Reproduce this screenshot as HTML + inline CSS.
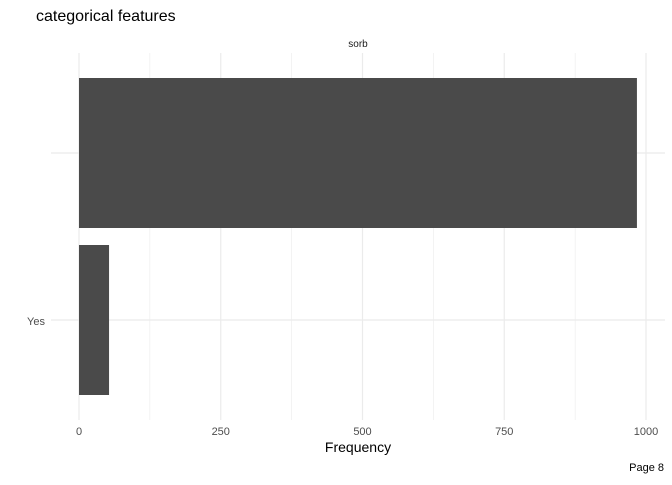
<!DOCTYPE html>
<html><head><meta charset="utf-8">
<style>
body{margin:0;background:#fff;font-family:"Liberation Sans",sans-serif;}
svg text{font-family:"Liberation Sans",sans-serif;}
</style></head>
<body>
<svg id="chart" width="672" height="480" xmlns="http://www.w3.org/2000/svg">
<text x="36" y="21" font-size="16" fill="#000">categorical features</text>
<text x="358" y="47" font-size="10" fill="#1a1a1a" text-anchor="middle">sorb</text>
<g id="grid"></g>
<g id="bars"></g>
<g id="labels"></g>
<text x="358" y="452" font-size="14" fill="#000" text-anchor="middle">Frequency</text>
<text x="664" y="471" font-size="11" fill="#000" text-anchor="end">Page 8</text>
</svg>
<script>
const categories = ["", "Yes"];
const counts = [984, 53];
const xTicks = [0, 250, 500, 750, 1000];
const xMinor = [125, 375, 625, 875];

const NS = "http://www.w3.org/2000/svg";
const panel = {left: 51, right: 665, top: 53, bottom: 420};
function xs(v){ return 79 + v * 0.567; }
const catPos = [153, 320];
function ys(i){ return catPos[i]; }
const bandH = 150;

function mk(tag, attrs, parent){
  const e = document.createElementNS(NS, tag);
  for (const k in attrs) e.setAttribute(k, attrs[k]);
  document.getElementById(parent).appendChild(e);
  return e;
}
xMinor.forEach(v=>{
  const l = mk("line",{x1:xs(v),x2:xs(v),y1:panel.top,y2:panel.bottom,stroke:"#ebebeb","stroke-width":0.6},"grid");
  
  
});
xTicks.forEach(v=>{
  const l = mk("line",{x1:xs(v),x2:xs(v),y1:panel.top,y2:panel.bottom,stroke:"#ebebeb","stroke-width":1.2},"grid");
  
  
  const t = mk("text",{x:xs(v),y:435,"font-size":11,fill:"#4d4d4d","text-anchor":"middle"},"labels");
  t.textContent = v;
  
  
});
categories.forEach((c,i)=>{
  const l = mk("line",{x1:panel.left,x2:panel.right,y1:ys(i),y2:ys(i),stroke:"#ebebeb","stroke-width":1.2},"grid");
  
  
  const t = mk("text",{x:45,y:ys(i)+5,"font-size":11,fill:"#4d4d4d","text-anchor":"end"},"labels");
  t.textContent = c;
  
  
});
counts.forEach((v,i)=>{
  const r = mk("rect",{x:xs(0),y:ys(i)-bandH/2,width:xs(v)-xs(0),height:bandH,fill:"#4a4a4a"},"bars");
  
  
});
</script>
</body></html>
